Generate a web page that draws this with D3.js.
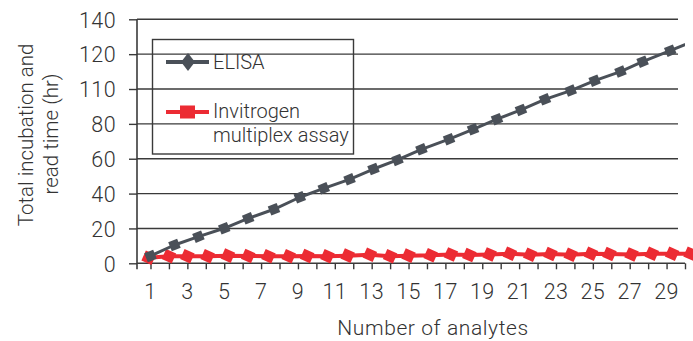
<!DOCTYPE html>
<html>
<head>
<meta charset="utf-8">
<script src="https://cdn.jsdelivr.net/npm/d3@7"></script>
<style>
  html, body { margin: 0; padding: 0; background: #fff; }
  svg { display: block; }
  text { font-family: Roboto, "Liberation Sans", sans-serif; font-weight: 300; fill: #333; }
</style>
</head>
<body>
<svg id="chart" width="693" height="341"></svg>
<script>
// Number of analytes on the category axis
const analyteTicks = [1, 2, 3, 4, 5, 6, 7, 8, 9, 10, 11, 12, 13, 14, 15,
                      16, 17, 18, 19, 20, 21, 22, 23, 24, 25, 26, 27, 28, 29, 30];
const analyteLabels = ["1", "3", "5", "7", "9", "11", "13", "15", "17", "19", "21", "23", "25", "27", "29"];
const labelledAnalytes = [1, 3, 5, 7, 9, 11, 13, 15, 17, 19, 21, 23, 25, 27, 29];

// Hours axis (the printed labels are kept as published)
const hourTicks = [0, 20, 40, 60, 80, 100, 120, 140];
const hourLabels = ["0", "20", "40", "60", "80", "110", "120", "140"];

// ELISA: position along the analyte axis and total hours
const elisaAt = [1.0, 2.3, 3.6, 5.0, 6.3, 7.7, 9.1, 10.4, 11.8, 13.1, 14.4, 15.7,
                 17.2, 18.5, 19.8, 21.1, 22.4, 23.8, 25.1, 26.5, 27.7, 29.2, 30.5];
const elisaHours = [4.2, 10.5, 15.3, 20.1, 25.8, 31.0, 37.9, 43.0, 48.2, 54.1, 59.3, 65.4,
                    71.2, 76.9, 82.7, 88.0, 94.1, 99.1, 104.8, 110.0, 115.7, 122.0, 127.6];

// Invitrogen multiplex assay
const multiplexAt = [0.9, 2.0, 3.0, 4.1, 5.2, 6.3, 7.4, 8.5, 9.5, 10.6, 11.7, 12.9, 14.0, 15.0,
                     16.2, 17.3, 18.3, 19.4, 20.5, 21.6, 22.7, 23.8, 24.9, 25.9, 27.1, 28.2, 29.3, 30.3];
const multiplexHours = [3.2, 4.0, 4.0, 4.0, 4.4, 4.2, 4.0, 4.0, 4.2, 4.0, 4.4, 4.9, 4.0, 4.4,
                        4.6, 5.1, 4.7, 5.1, 5.5, 4.9, 5.3, 4.9, 5.5, 5.3, 5.1, 5.5, 5.5, 5.5];

const seriesNames = ["ELISA", "Invitrogen", "multiplex assay"];
const xTitle = "Number of analytes";
const yTitle = ["Total incubation and", "read time (hr)"];

const elisaColor = "#4a5058";
const multiplexColor = "#ec2b33";
const axisColor = "#3a3a3a";

const svg = d3.select("#chart");

const plotLeft = 137, plotRight = 685, gridRight = 678;
const x = d3.scaleLinear().domain([1, 30]).range([150.5, 685]);
const y = d3.scaleLinear().domain([0, 140]).range([263.3, 19.3]);

// horizontal gridlines
svg.append("g")
  .selectAll("line")
  .data(hourTicks.filter(v => v > 0))
  .join("line")
  .attr("x1", plotLeft).attr("x2", gridRight)
  .attr("y1", d => y(d)).attr("y2", d => y(d))
  .attr("stroke", axisColor).attr("stroke-width", 1.4);

// y axis
const yAxis = d3.axisLeft(y)
  .tickValues(hourTicks)
  .tickSize(8)
  .tickPadding(13)
  .tickFormat((d, i) => hourLabels[i]);
const gy = svg.append("g").attr("transform", `translate(${plotLeft},0)`).call(yAxis);
gy.select(".domain").remove();
gy.selectAll(".tick line").attr("stroke", axisColor).attr("stroke-width", 1.4);
gy.selectAll(".tick text")
  .style("font-size", "21.5px").style("letter-spacing", "0.4px")
  .attr("fill", "#333").attr("dy", "0.36em");
svg.append("line")
  .attr("x1", plotLeft).attr("x2", plotLeft)
  .attr("y1", y(140)).attr("y2", y(0) + 6)
  .attr("stroke", axisColor).attr("stroke-width", 1.6);

// x axis
const xAxis = d3.axisBottom(x)
  .tickValues(analyteTicks)
  .tickSize(6)
  .tickFormat(() => "");
const gx = svg.append("g").attr("transform", `translate(0,${y(0)})`).call(xAxis);
gx.select(".domain").remove();
gx.selectAll(".tick line").attr("stroke", axisColor).attr("stroke-width", 1.4);
svg.append("line")
  .attr("x1", plotLeft).attr("x2", plotRight)
  .attr("y1", y(0)).attr("y2", y(0))
  .attr("stroke", axisColor).attr("stroke-width", 1.6);

svg.append("g")
  .selectAll("text")
  .data(labelledAnalytes)
  .join("text")
  .attr("x", d => x(d))
  .attr("y", 298.5)
  .attr("text-anchor", "middle")
  .style("font-size", "21.5px").style("letter-spacing", "0.4px")
  .text((d, i) => analyteLabels[i]);

// axis titles
svg.append("text")
  .attr("x", 433).attr("y", 335)
  .attr("text-anchor", "middle")
  .style("font-size", "21px").style("letter-spacing", "0.6px")
  .text(xTitle);

const yt = svg.append("g");
yt.append("text")
  .attr("transform", "translate(33,135) rotate(-90)")
  .attr("text-anchor", "middle")
  .style("font-size", "20.5px")
  .text(yTitle[0]);
yt.append("text")
  .attr("transform", "translate(58,134) rotate(-90)")
  .attr("text-anchor", "middle")
  .style("font-size", "20.5px")
  .text(yTitle[1]);

// series
svg.append("defs").append("clipPath").attr("id", "plotClip")
  .append("rect").attr("x", plotLeft).attr("y", 0)
  .attr("width", plotRight - plotLeft).attr("height", 280);

const line = d3.line().x(d => x(d[0])).y(d => y(d[1]));

const multiplexPts = multiplexAt.map((a, i) => [a, multiplexHours[i]]);
const elisaPts = elisaAt.map((a, i) => [a, elisaHours[i]]);

const mg = svg.append("g");
mg.append("path")
  .datum(multiplexPts)
  .attr("d", line)
  .attr("fill", "none")
  .attr("stroke", multiplexColor)
  .attr("stroke-width", 4)
  .attr("stroke-linejoin", "round");
mg.selectAll("rect")
  .data(multiplexPts)
  .join("rect")
  .attr("x", -5.5).attr("y", -5.5)
  .attr("width", 11).attr("height", 11)
  .attr("fill", multiplexColor)
  .attr("transform", d => `translate(${x(d[0])},${y(d[1])}) rotate(24)`);

const eg = svg.append("g").attr("clip-path", "url(#plotClip)");
eg.append("path")
  .datum(elisaPts)
  .attr("d", line)
  .attr("fill", "none")
  .attr("stroke", elisaColor)
  .attr("stroke-width", 3)
  .attr("stroke-linejoin", "round");
eg.selectAll("rect")
  .data(elisaPts)
  .join("rect")
  .attr("x", -4.8).attr("y", -4.8)
  .attr("width", 9.6).attr("height", 9.6)
  .attr("fill", elisaColor)
  .attr("transform", d => `translate(${x(d[0])},${y(d[1])}) rotate(-22)`);

// legend
const lg = svg.append("g");
lg.append("rect")
  .attr("x", 152.5).attr("y", 39.5)
  .attr("width", 201).attr("height", 114.5)
  .attr("fill", "none")
  .attr("stroke", axisColor).attr("stroke-width", 1.4);

lg.append("line")
  .attr("x1", 166).attr("x2", 209).attr("y1", 62).attr("y2", 62)
  .attr("stroke", elisaColor).attr("stroke-width", 4);
lg.append("path")
  .attr("d", d3.symbol(d3.symbolDiamond, 150)())
  .attr("transform", "translate(188,62) scale(1.05,0.8)")
  .attr("fill", elisaColor);
lg.append("text")
  .attr("x", 213).attr("y", 69)
  .style("font-size", "20px")
  .text(seriesNames[0]);

lg.append("line")
  .attr("x1", 166).attr("x2", 209).attr("y1", 112).attr("y2", 112)
  .attr("stroke", multiplexColor).attr("stroke-width", 4);
lg.append("rect")
  .attr("x", 180).attr("y", 105.5).attr("width", 15).attr("height", 13)
  .attr("fill", multiplexColor);
lg.append("text")
  .attr("x", 213).attr("y", 118)
  .style("font-size", "20px")
  .text(seriesNames[1]);
lg.append("text")
  .attr("x", 213).attr("y", 142)
  .style("font-size", "20px")
  .text(seriesNames[2]);
</script>
</body>
</html>
